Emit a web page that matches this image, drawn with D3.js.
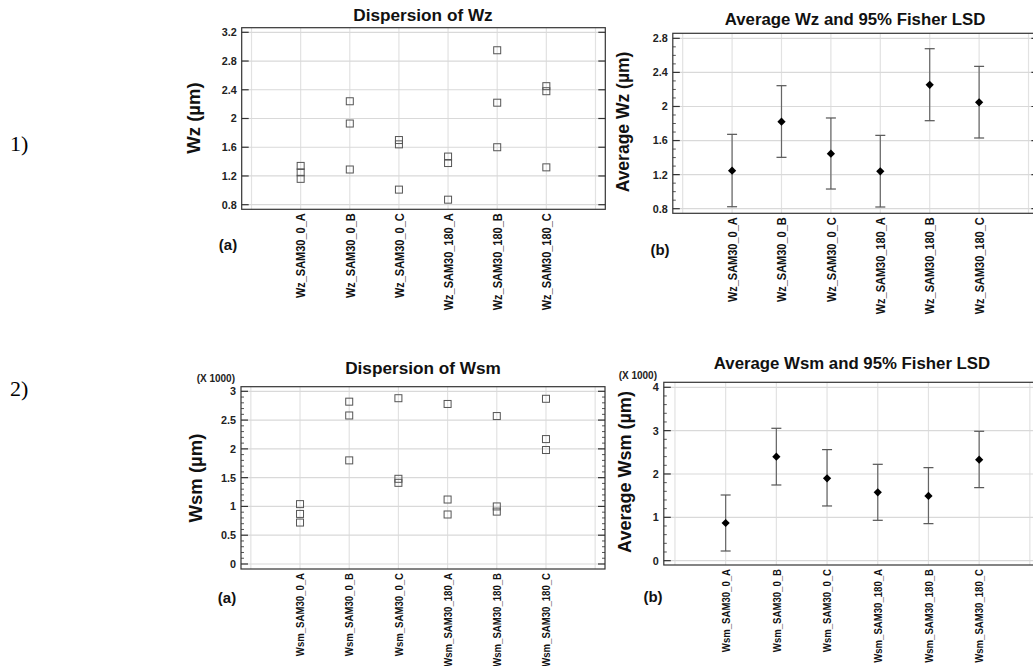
<!DOCTYPE html>
<html><head><meta charset="utf-8">
<script src="https://cdn.jsdelivr.net/npm/d3@7"></script>
<style>
html,body{margin:0;padding:0;background:#fff;}
text{font-family:"Liberation Sans",Arial,sans-serif;}
text.serif{font-family:"Liberation Serif","Times New Roman",serif;}
</style></head>
<body>
<svg id="c" width="1033" height="666"></svg>
<script>
// ---------- DATA ----------
const groups = ["SAM30_0_A","SAM30_0_B","SAM30_0_C","SAM30_180_A","SAM30_180_B","SAM30_180_C"];
const wzObs = [[1.34,1.25,1.16],[2.24,1.93,1.29],[1.70,1.64,1.01],[1.47,1.38,0.87],[2.95,2.22,1.60],[2.45,2.38,1.32]];
const wzMean = [1.246,1.821,1.446,1.239,2.255,2.049];
const wzLow  = [0.823,1.403,1.031,0.820,1.833,1.630];
const wzHigh = [1.673,2.244,1.865,1.661,2.678,2.471];
// Wsm values in thousands (X 1000)
const wsmObs = [[1.04,0.87,0.72],[2.82,2.58,1.80],[2.88,1.48,1.41],[2.78,1.12,0.86],[2.57,1.00,0.91],[2.87,2.17,1.98]];
const wsmMean = [0.869,2.400,1.900,1.577,1.492,2.331];
const wsmLow  = [0.223,1.746,1.262,0.931,0.854,1.685];
const wsmHigh = [1.515,3.054,2.562,2.223,2.146,2.985];
const ticks1a = [0.8,1.2,1.6,2,2.4,2.8,3.2];
const ticks1b = [0.8,1.2,1.6,2,2.4,2.8];
const ticks2a = [0,0.5,1,1.5,2,2.5,3];
const ticks2b = [0,1,2,3,4];

const svg = d3.select("#c");
svg.append("rect").attr("width",1033).attr("height",666).attr("fill","#fff");

function panel(o){
  const g = svg.append("g");
  const x = d3.scaleLinear().domain(o.xd).range([o.L,o.R]);
  const y = d3.scaleLinear().domain(o.yd).range([o.B,o.T]);
  g.selectAll(".vg").data(d3.range(0,8)).enter().append("line")
    .attr("x1",d=>x(d)).attr("x2",d=>x(d)).attr("y1",o.T).attr("y2",o.B)
    .attr("stroke","#e2e2e2").attr("stroke-width",1.2);
  g.selectAll(".hg").data(o.ticks).enter().append("line")
    .attr("x1",o.L).attr("x2",o.R).attr("y1",d=>y(d)).attr("y2",d=>y(d))
    .attr("stroke","#d9d9d9").attr("stroke-width",1.2);
  if(o.minor){
    const st = o.minor;
    const mins = [];
    for(let v=Math.ceil(o.yd[0]/st)*st; v<=o.yd[1]; v+=st){
      const r = Math.round(v*1000)/1000;
      if(!o.ticks.some(t=>Math.abs(t-r)<1e-6)) mins.push(r);
    }
    [o.L,o.R].forEach((xx,i)=>{
      g.selectAll(null).data(mins).enter().append("line")
        .attr("x1",xx).attr("x2",xx+(i?-3:3)).attr("y1",d=>y(d)).attr("y2",d=>y(d))
        .attr("stroke","#555").attr("stroke-width",1);
    });
  }
  [o.L,o.R].forEach((xx,i)=>{
    g.selectAll(null).data(o.ticks).enter().append("line")
      .attr("x1",xx).attr("x2",xx+(i?-7:7)).attr("y1",d=>y(d)).attr("y2",d=>y(d))
      .attr("stroke","#333").attr("stroke-width",1.2);
  });
  g.append("rect").attr("x",o.L).attr("y",o.T).attr("width",o.R-o.L).attr("height",o.B-o.T)
    .attr("fill","none").attr("stroke","#333").attr("stroke-width",1.2);
  g.selectAll(".tl").data(o.ticks).enter().append("text")
    .attr("x",o.L-5).attr("y",d=>y(d)).attr("dy","0.36em")
    .attr("text-anchor","end").attr("font-size",10.8).attr("font-weight","bold").attr("fill","#222")
    .text(d=>String(d));
  if(o.scaleLabel){
    g.append("text").attr("x",o.scaleLabel[0]).attr("y",o.scaleLabel[1]).attr("text-anchor","end")
      .attr("font-size",10).attr("font-weight","bold").attr("fill","#222").text("(X 1000)");
  }
  g.append("text").attr("x",o.titleX).attr("y",o.titleY).attr("text-anchor","middle")
    .attr("font-size",o.titleSize).attr("font-weight","bold").attr("fill","#111").text(o.title);
  g.append("text").attr("transform",`translate(${o.ylX},${o.ylY}) rotate(-90)`)
    .attr("text-anchor","middle").attr("dy","0.36em")
    .attr("font-size",o.ylSize).attr("font-weight","bold").attr("fill","#111").text(o.ylabel);
  g.selectAll(".xl").data(groups).enter().append("text")
    .attr("transform",(d,i)=>`translate(${x(i+1)},${o.B+4}) rotate(-90) scale(1,1.2)`)
    .attr("text-anchor","end").attr("dy","0.36em")
    .attr("font-size",o.xlSize).attr("font-weight","bold").attr("fill","#111")
    .text(d=>o.prefix+"_"+d);
  g.append("text").attr("x",o.letter[0]).attr("y",o.letter[1]).attr("text-anchor","middle")
    .attr("font-size",15).attr("font-weight","bold").attr("fill","#111").text(o.letter[2]);
  if(o.obs){
    o.obs.forEach((arr,i)=>{
      g.selectAll(null).data(arr).enter().append("rect")
        .attr("x",x(i+1)-3.5).attr("y",d=>y(d)-3.5).attr("width",7).attr("height",7)
        .attr("fill","none").attr("stroke","#555").attr("stroke-width",1);
    });
  } else {
    const idx = d3.range(groups.length);
    g.selectAll(".eb").data(idx).enter().append("line")
      .attr("x1",i=>x(i+1)).attr("x2",i=>x(i+1))
      .attr("y1",i=>y(o.low[i])).attr("y2",i=>y(o.high[i]))
      .attr("stroke","#666").attr("stroke-width",1.2);
    ["low","high"].forEach(k=>{
      g.selectAll(null).data(idx).enter().append("line")
        .attr("x1",i=>x(i+1)-5).attr("x2",i=>x(i+1)+5)
        .attr("y1",i=>y(o[k][i])).attr("y2",i=>y(o[k][i]))
        .attr("stroke","#555").attr("stroke-width",1.2);
    });
    g.selectAll(".mk").data(idx).enter().append("path")
      .attr("d",d3.symbol(d3.symbolSquare,34)())
      .attr("transform",i=>`translate(${x(i+1)},${y(o.mean[i])}) rotate(45)`)
      .attr("fill","#000");
  }
}

panel({L:241.7,R:605.3,T:27.7,B:209.3,xd:[-0.2,7.2],yd:[0.736,3.264],ticks:ticks1a,minor:null,
  title:"Dispersion of Wz",titleSize:17.2,titleX:423,titleY:21,ylabel:"Wz (µm)",ylX:193,ylY:118,ylSize:18.5,
  prefix:"Wz",xlSize:11,letter:[228,250,"(a)"],obs:wzObs});
panel({L:672.8,R:1038.4,T:33.3,B:213.3,xd:[-0.2,7.2],yd:[0.746,2.859],ticks:ticks1b,minor:0.1,
  title:"Average Wz and 95% Fisher LSD",titleSize:16.8,titleX:855,titleY:25,ylabel:"Average Wz (µm)",ylX:623,ylY:122,ylSize:17.5,
  prefix:"Wz",xlSize:11,letter:[660,255,"(b)"],mean:wzMean,low:wzLow,high:wzHigh});
panel({L:241,R:605,T:386.7,B:569,xd:[-0.2,7.2],yd:[-0.087,3.08],ticks:ticks2a,minor:0.1,
  title:"Dispersion of Wsm",titleSize:17.2,titleX:423,titleY:374,ylabel:"Wsm (µm)",ylX:195,ylY:478,ylSize:18.5,
  prefix:"Wsm",xlSize:9.6,letter:[227,603,"(a)"],obs:wsmObs,scaleLabel:[235,382]});
panel({L:663.8,R:1040,T:382.3,B:565,xd:[-0.22,7.2],yd:[-0.1,4.115],ticks:ticks2b,minor:0.2,
  title:"Average Wsm and 95% Fisher LSD",titleSize:16.8,titleX:852,titleY:369,ylabel:"Average Wsm (µm)",ylX:625,ylY:472,ylSize:18,
  prefix:"Wsm",xlSize:9.6,letter:[653,602,"(b)"],mean:wsmMean,low:wsmLow,high:wsmHigh,scaleLabel:[657,379]});

svg.append("text").attr("class","serif").attr("x",10).attr("y",151)
  .attr("font-size",22).attr("fill","#000").text("1)");
svg.append("text").attr("class","serif").attr("x",10).attr("y",396)
  .attr("font-size",22).attr("fill","#000").text("2)");
</script>
</body></html>
